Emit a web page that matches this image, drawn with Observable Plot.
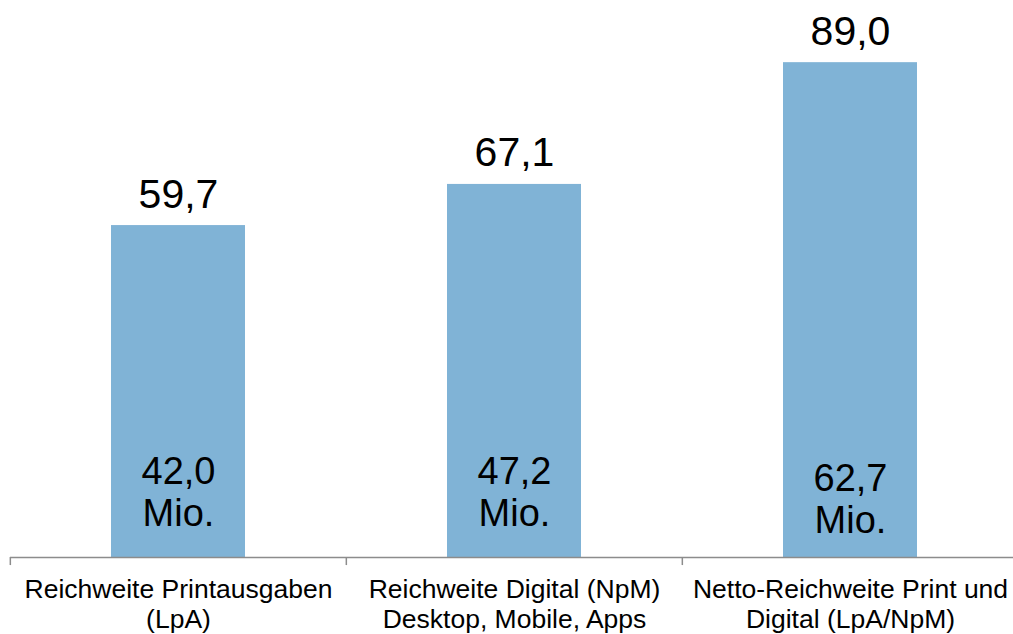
<!DOCTYPE html>
<html>
<head>
<meta charset="utf-8">
<script src="https://cdn.jsdelivr.net/npm/d3@7"></script>
<script src="https://cdn.jsdelivr.net/npm/@observablehq/plot@0.6"></script>
<style>
  html, body { margin: 0; padding: 0; background: #fff; }
  svg { font-family: "Liberation Sans", Arial, sans-serif; }
</style>
</head>
<body>
<div id="chart"></div>
<script>
const categories = ["Reichweite Printausgaben (LpA)", "Reichweite Digital (NpM) Desktop, Mobile, Apps", "Netto-Reichweite Print und Digital (LpA/NpM)"];
const categoryLabels = ["Reichweite Printausgaben\n(LpA)", "Reichweite Digital (NpM)\nDesktop, Mobile, Apps", "Netto-Reichweite Print und\nDigital (LpA/NpM)"];
const values = [59.7, 67.1, 89.0];
const valueLabels = ["59,7", "67,1", "89,0"];
const innerLabels = ["42,0\nMio.", "47,2\nMio.", "62,7\nMio."];

const data = categories.map((c, i) => ({
  cat: c, label: categoryLabels[i], value: values[i], vlabel: valueLabels[i], inner: innerLabels[i]
}));

const W = 1013, H = 634;
const step = (1019 - 10) / 3;

const chart = Plot.plot({
  width: W,
  height: H,
  marginTop: 1,
  marginLeft: 10,
  marginRight: 0,
  marginBottom: 77,
  style: {fontFamily: "'Liberation Sans', Arial, sans-serif", background: "#fff"},
  x: {domain: categories, range: [10, 1019], padding: 0.6, paddingOuter: 0.3, axis: null},
  y: {domain: [0, 100], range: [557, 1], axis: null},
  marks: [
    Plot.barY(data, {x: "cat", y: "value", fill: "#80b3d6"}),
    Plot.ruleY([0], {stroke: "#8c8c8c", strokeWidth: 1.5}),
    Plot.ruleX(data, {x: "cat", dx: -step / 2, y1: 0, y2: -1.45, stroke: "#8c8c8c", strokeWidth: 1.5}),
    Plot.text(data, {x: "cat", y: "value", text: "vlabel", lineAnchor: "bottom", dy: -18, fontSize: 41, fill: "#000"}),
    Plot.text(data.slice(0, 2), {x: "cat", y: 0, text: "inner", lineAnchor: "bottom", dy: -32, fontSize: 38, lineHeight: 1.1, fill: "#000"}),
    Plot.text(data.slice(2), {x: "cat", y: 0, text: "inner", lineAnchor: "bottom", dy: -25, fontSize: 38, lineHeight: 1.1, fill: "#000"}),
    Plot.text(data, {x: "cat", y: 0, text: "label", lineAnchor: "top", dy: 19, fontSize: 26.5, lineHeight: 1.13, fill: "#000"})
  ]
});
document.getElementById("chart").appendChild(chart);
</script>
</body>
</html>
